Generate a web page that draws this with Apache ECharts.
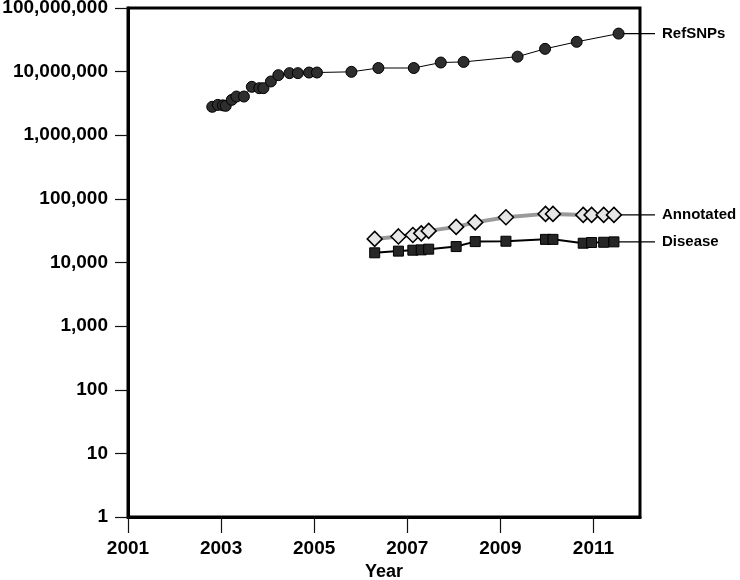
<!DOCTYPE html>
<html>
<head>
<meta charset="utf-8">
<script src="https://cdn.jsdelivr.net/npm/echarts@6/dist/echarts.min.js"></script>
<style>
  html, body { margin: 0; padding: 0; background: #fff; }
  #main { width: 740px; height: 580px; }
</style>
</head>
<body>
<div id="main"></div>
<script>
// data
var refYears = [2002.81, 2002.93, 2003.04, 2003.10, 2003.23, 2003.33, 2003.49, 2003.66, 2003.82, 2003.91,
  2004.07, 2004.23, 2004.47, 2004.65, 2004.89, 2005.06, 2005.80, 2006.38, 2007.14, 2007.72,
  2008.21, 2009.37, 2009.96, 2010.64, 2011.54];
var refValues = [2.8e6, 3.0e6, 2.95e6, 2.9e6, 3.6e6, 4.06e6, 4.06e6, 5.77e6, 5.5e6, 5.5e6,
  7.0e6, 8.8e6, 9.47e6, 9.47e6, 9.68e6, 9.68e6, 9.93e6, 11.4e6, 11.4e6, 13.9e6,
  14.2e6, 17.2e6, 22.8e6, 29.4e6, 39.6e6];

var buildYears = [2006.30, 2006.81, 2007.12, 2007.30, 2007.46, 2008.05, 2008.46, 2009.12,
  2009.97, 2010.13, 2010.78, 2010.96, 2011.22, 2011.44];
var annotatedValues = [23500, 25700, 27100, 28700, 31400, 36300, 42700, 51500,
  58100, 58100, 56000, 56000, 56000, 56000];
var diseaseValues = [14200, 15100, 15600, 15800, 16200, 17800, 21300, 21600,
  23100, 23100, 20100, 20600, 20800, 21100];

var yearTicks = [2001, 2003, 2005, 2007, 2009, 2011];
var seriesNames = ['RefSNPs', 'Annotated', 'Disease'];

function pairs(xs, ys) {
  return xs.map(function (x, i) { return [x, ys[i]]; });
}

var font = "'Liberation Sans', Arial, Helvetica, sans-serif";
var myChart = echarts.init(document.getElementById('main'));

myChart.setOption({
  backgroundColor: '#fff',
  animation: false,
  textStyle: { fontFamily: font },
  grid: {
    left: 128, right: 100, top: 8, bottom: 63,
    outerBoundsMode: 'none',
    containLabel: false,
    show: true, borderColor: '#000', borderWidth: 3, backgroundColor: '#fff'
  },
  xAxis: {
    type: 'value',
    min: 2001,
    max: 2012,
    name: 'Year',
    nameLocation: 'middle',
    nameGap: 46,
    nameTextStyle: { fontSize: 18, fontWeight: 'bold', color: '#000', fontFamily: font },
    axisLine: { lineStyle: { color: '#000', width: 3 } },
    axisTick: { customValues: yearTicks, length: 16, lineStyle: { color: '#111', width: 1.2 } },
    axisLabel: {
      customValues: yearTicks, margin: 22,
      fontSize: 19, fontWeight: 'bold', color: '#000', fontFamily: font,
      formatter: function (v) { return String(Math.round(v)); }
    },
    splitLine: { show: false }
  },
  yAxis: {
    type: 'log',
    logBase: 10,
    min: 1,
    max: 1e8,
    interval: 1,
    axisLine: { lineStyle: { color: '#000', width: 3 } },
    axisTick: { length: 13, lineStyle: { color: '#111', width: 1.2 } },
    axisLabel: {
      margin: 20, fontSize: 19, fontWeight: 'bold', color: '#000', fontFamily: font,
      formatter: function (v) { return Math.round(v).toLocaleString('en-US'); }
    },
    splitLine: { show: false },
    minorTick: { show: false }
  },
  series: [{
    name: seriesNames[0],
    type: 'line',
    data: pairs(refYears, refValues),
    symbol: 'circle',
    symbolSize: 11,
    lineStyle: { color: '#000', width: 1 },
    itemStyle: { color: '#2e2e2e', borderColor: '#000', borderWidth: 1 }
  }, {
    name: seriesNames[1],
    type: 'line',
    data: pairs(buildYears, annotatedValues),
    symbol: 'diamond',
    symbolSize: [15, 15],
    lineStyle: { color: '#9a9a9a', width: 4 },
    itemStyle: { color: '#e6e6e6', borderColor: '#000', borderWidth: 1.5 }
  }, {
    name: seriesNames[2],
    type: 'line',
    data: pairs(buildYears, diseaseValues),
    symbol: 'rect',
    symbolSize: 10,
    lineStyle: { color: '#000', width: 2 },
    itemStyle: { color: '#262626', borderColor: '#000', borderWidth: 1 }
  }]
});

// connector + label at the right border for each series
var lastPoints = [
  [refYears[refYears.length - 1], refValues[refValues.length - 1]],
  [buildYears[buildYears.length - 1], annotatedValues[annotatedValues.length - 1]],
  [buildYears[buildYears.length - 1], diseaseValues[diseaseValues.length - 1]]
];
var borderX = myChart.convertToPixel({ xAxisIndex: 0 }, 2012);
var graphics = [];
lastPoints.forEach(function (p, i) {
  var px = myChart.convertToPixel({ seriesIndex: i }, p);
  graphics.push({
    type: 'line',
    z: 1,
    shape: { x1: px[0], y1: px[1], x2: borderX + 15, y2: px[1] },
    style: { stroke: '#000', lineWidth: 1.2 }
  });
  graphics.push({
    type: 'text',
    x: borderX + 22,
    y: px[1],
    style: {
      text: seriesNames[i], fill: '#000', font: 'bold 15px ' + font,
      textAlign: 'left', textVerticalAlign: 'middle'
    }
  });
});
myChart.setOption({ graphic: graphics });
</script>
</body>
</html>
